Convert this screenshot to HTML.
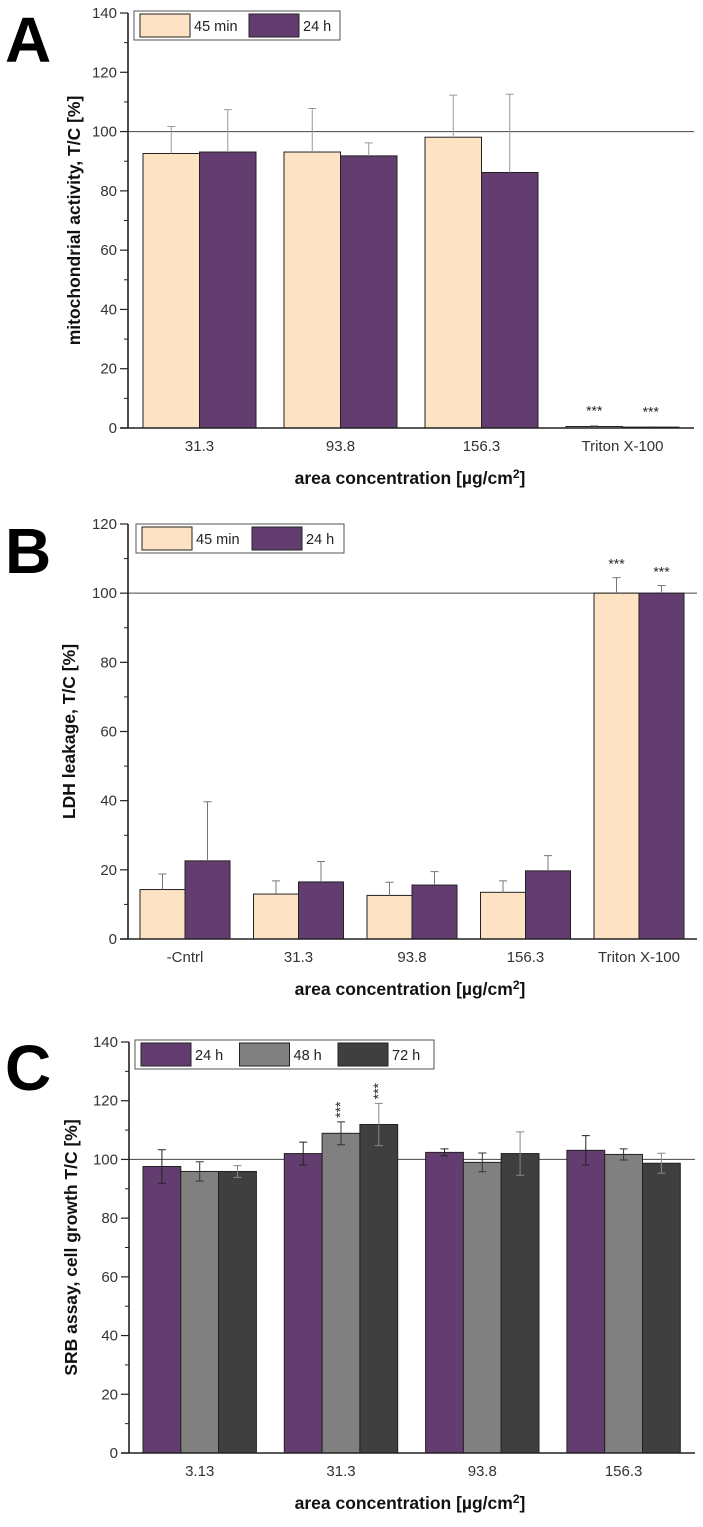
<!DOCTYPE html>
<html><head><meta charset="utf-8">
<style>
html,body{margin:0;padding:0;background:#fff;}
svg{display:block;font-family:"Liberation Sans",Arial,sans-serif;}
</style></head>
<body>
<svg id="fig" width="703" height="1527" viewBox="0 0 703 1527" xmlns="http://www.w3.org/2000/svg"></svg>
<script>
// Panel A data
const catsA = ["31.3","93.8","156.3","Triton X-100"];
const a45 = [92.6, 93.1, 98.1, 0.5];
const a45err = [9.1, 14.7, 14.2, 0.3];
const a24 = [93.1, 91.8, 86.2, 0.3];
const a24err = [14.3, 4.4, 26.4, 0.2];
const ticksA = [0,20,40,60,80,100,120,140];
const starsA = ["","","","***"];
// Panel B data
const catsB = ["-Cntrl","31.3","93.8","156.3","Triton X-100"];
const b45 = [14.3, 13.0, 12.6, 13.5, 100];
const b45err = [4.5, 3.8, 3.8, 3.3, 4.5];
const b24 = [22.6, 16.5, 15.6, 19.7, 100];
const b24err = [17.1, 5.9, 3.9, 4.4, 2.2];
const ticksB = [0,20,40,60,80,100,120];
const starsB = ["","","","","***"];
// Panel C data
const catsC = ["3.13","31.3","93.8","156.3"];
const c24 = [97.6, 102.0, 102.4, 103.1];
const c24err = [5.7, 3.9, 1.2, 5.0];
const c48 = [95.9, 108.9, 99.0, 101.7];
const c48err = [3.3, 3.9, 3.2, 1.9];
const c72 = [95.9, 111.9, 102.0, 98.7];
const c72err = [2.0, 7.2, 7.4, 3.4];
const ticksC = [0,20,40,60,80,100,120,140];
const starsC48 = ["","***","",""];
const starsC72 = ["","***","",""];

const NS="http://www.w3.org/2000/svg";
const svg=document.getElementById('fig');
function mk(tag,attrs,parent,text){
  const e=document.createElementNS(NS,tag);
  for(const k in attrs)e.setAttribute(k,attrs[k]);
  if(text!==undefined)e.textContent=text;
  (parent||svg).appendChild(e);return e;
}

function panel(cfg){
  const g=mk('g',{});
  
  
  const y=v=>cfg.y0-(v-0)*(cfg.y0-cfg.yTop)/cfg.ymax;
  const axX=cfg.axX;
  const L=mk('text',{x:cfg.letterX,y:cfg.letterY,'font-size':64,'font-weight':900,fill:'#000'},g,cfg.letter);
  
  
  const rl=mk('line',{x1:axX,x2:cfg.axEnd,y1:y(100),y2:y(100),stroke:'#444','stroke-width':1},g);
  
  
  const nS=cfg.series.length;
  cfg.cats.forEach((c,i)=>{
    const gx=cfg.gx0+i*cfg.gStep;
    cfg.series.forEach((s,j)=>{
      const x=gx+j*cfg.bw; const v=s.vals[i];
      const r=mk('rect',{x:x,y:y(v),width:cfg.bw,height:Math.max(0.8,y(0)-y(v)),fill:s.color,stroke:'#222','stroke-width':1},g);
      
      
      const cx=x+cfg.bw/2, e=s.err[i];
      const top=y(v+e), bot=cfg.oneSided?y(v):y(v-e);
      const eb=mk('path',{d:`M${cx},${bot}V${top}M${cx-4},${top}H${cx+4}`+(cfg.oneSided?'':`M${cx-4},${bot}H${cx+4}`),stroke:s.errColor,'stroke-width':1,fill:'none'},g);
      
      
      if(s.stars&&s.stars[i]){
        if(cfg.vertStars){
          const t=mk('text',{x:0,y:0,'font-size':14,fill:'#222','text-anchor':'start',transform:`translate(${cx+4},${top-4}) rotate(-90)`},g,s.stars[i]);
          
          
        } else {
          const t=mk('text',{x:cx,y:Math.min(top,y(0))-cfg.starOff,'font-size':14,fill:'#222','text-anchor':'middle'},g,s.stars[i]);
          
          
        }
      }
    });
    const lx=gx+nS*cfg.bw/2;
    const t=mk('text',{x:lx,y:y(0)+23,'font-size':15,fill:'#333','text-anchor':'middle'},g,c);
    
    
  });
  const ax=mk('path',{d:`M${axX},${cfg.yTop}V${y(0)}M${axX-8},${y(0)}H${cfg.axEnd}`,stroke:'#222','stroke-width':1.6,fill:'none'},g);
  
  
  cfg.ticks.forEach((t,k)=>{
    mk('line',{x1:axX-8,x2:axX,y1:y(t),y2:y(t),stroke:'#222','stroke-width':1.2},g);
    if(k<cfg.ticks.length-1){const m=(t+cfg.ticks[k+1])/2;mk('line',{x1:axX-4,x2:axX,y1:y(m),y2:y(m),stroke:'#222','stroke-width':1},g);}
    const tl=mk('text',{x:axX-11,y:y(t)+5,'font-size':15,fill:'#333','text-anchor':'end'},g,t);
    
    
  });
  const yt=mk('text',{x:0,y:0,'font-size':17.5,'font-weight':'bold',fill:'#111','text-anchor':'middle',transform:`translate(${cfg.yTitleX},${(cfg.yTop+y(0))/2}) rotate(-90)`},g,cfg.yTitle);
  
  
  const xt=mk('text',{x:410,y:y(0)+56,'font-size':17.5,'font-weight':'bold',fill:'#111','text-anchor':'middle'},g);
  
  
  mk('tspan',{},xt,'area concentration [\u00b5g/cm');
  mk('tspan',{dy:-6,'font-size':12},xt,'2');
  mk('tspan',{dy:6},xt,']');
  const lg=mk('g',{},g);
  
  
  mk('rect',{x:cfg.legX,y:cfg.legY,width:cfg.legW,height:29,fill:'#fff',stroke:'#555','stroke-width':1},lg);
  let lx=cfg.legX+6;
  cfg.series.forEach(s=>{
    const e=mk('g',{},lg);
    
    
    mk('rect',{x:lx,y:cfg.legY+3,width:50,height:23,fill:s.color,stroke:'#222','stroke-width':1},e);
    mk('text',{x:lx+54,y:cfg.legY+20,'font-size':14.5,fill:'#222'},e,s.label);
    lx+=cfg.legStep;
  });
}

const PEACH='#fde3c3', PURP='#643d70', GREY='#808080', DARK='#3f3f3f';
panel({name:'panel-a-mitochondrial-activity',letter:'A',letterX:5,letterY:62,cats:catsA,
  series:[{key:'45min',label:'45 min',vals:a45,err:a45err,color:PEACH,errColor:'#999',stars:starsA},
          {key:'24h',label:'24 h',vals:a24,err:a24err,color:PURP,errColor:'#999',stars:starsA}],
  y0:428,yTop:13,ymax:140,axX:128,axEnd:694,gx0:143,gStep:141,bw:56.5,oneSided:true,starOff:10,
  ticks:ticksA,yTitle:'mitochondrial activity, T/C [%]',yTitleX:80,legX:134,legY:11,legW:206,legStep:109});
panel({name:'panel-b-ldh-leakage',letter:'B',letterX:5,letterY:573,cats:catsB,
  series:[{key:'45min',label:'45 min',vals:b45,err:b45err,color:PEACH,errColor:'#777',stars:starsB},
          {key:'24h',label:'24 h',vals:b24,err:b24err,color:PURP,errColor:'#777',stars:starsB},],
  y0:939,yTop:524,ymax:120,axX:128,axEnd:697,gx0:140,gStep:113.5,bw:45,oneSided:true,starOff:9,
  ticks:ticksB,yTitle:'LDH leakage, T/C [%]',yTitleX:75,legX:136,legY:524,legW:208,legStep:110});
panel({name:'panel-c-srb-assay',letter:'C',letterX:5,letterY:1090,cats:catsC,
  series:[{key:'24h',label:'24 h',vals:c24,err:c24err,color:PURP,errColor:'#222'},
          {key:'48h',label:'48 h',vals:c48,err:c48err,color:GREY,errColor:'#333',stars:starsC48},
          {key:'72h',label:'72 h',vals:c72,err:c72err,color:DARK,errColor:'#888',stars:starsC72}],
  y0:1453,yTop:1042,ymax:140,axX:129,axEnd:695,gx0:143,gStep:141.3,bw:37.8,oneSided:false,vertStars:true,
  ticks:ticksC,yTitle:'SRB assay, cell growth T/C [%]',yTitleX:77,legX:135,legY:1040,legW:299,legStep:98.5});
</script>
</body></html>
